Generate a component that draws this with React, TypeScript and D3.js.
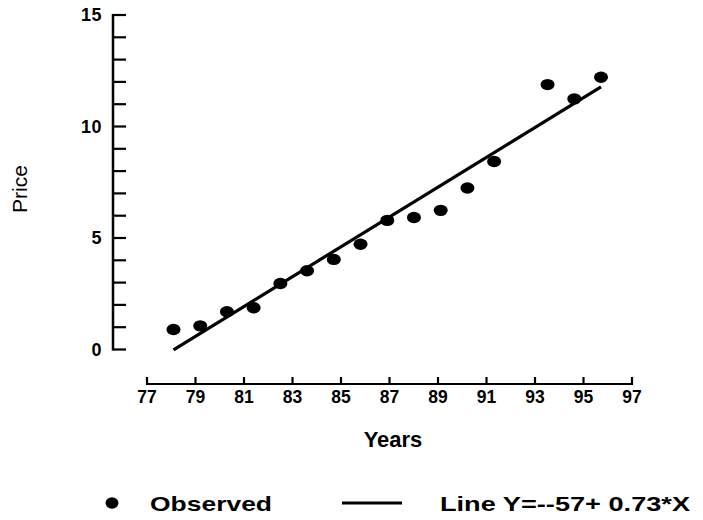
import React from "react";
import * as d3 from "d3";

const years = [78, 79, 80, 81, 82, 83, 84, 85, 86, 87, 88, 89, 90, 92, 93, 94];
const prices = [0.9, 1.06, 1.69, 1.87, 2.96, 3.53, 4.04, 4.72, 5.79, 5.92, 6.24, 7.24, 8.43, 11.88, 11.24, 12.21];
const xTickLabels = [77, 79, 81, 83, 85, 87, 89, 91, 93, 95, 97];
const yTickValues = d3.range(0, 16, 1);
const yTickLabels = [0, 5, 10, 15];
const lineIntercept = -57.5;
const lineSlope = 0.737;
const lineYears = [78, 94];
const legendLabels = ["Observed", "Line Y=--57+ 0.73*X"];

const FONT = "'Liberation Sans', Arial, Helvetica, sans-serif";

export default function App() {
  const W = 703, H = 520;
  const y = d3.scaleLinear().domain([0, 15]).range([349.5, 15]);
  const xAxis = d3.scaleLinear().domain([77, 97]).range([147, 632]);
  // plotted marks use their own horizontal placement as in the original figure
  const xMark = d3.scaleLinear().domain([78, 94]).range([173.5, 601]);
  const axisX = 113;
  const axisY = 384;

  const fitLine = d3
    .line<number>()
    .x((d) => xMark(d))
    .y((d) => y(lineIntercept + lineSlope * d));

  return (
    <div style={{ position: "absolute", left: 0, top: 0 }}>
      <svg width={W} height={H} style={{ display: "block", background: "#fff" }}>
        <rect width={W} height={H} fill="#fff" />
        {/* Y axis */}
        <line x1={axisX} x2={axisX} y1={y(15) - 1} y2={y(0) + 1} stroke="#000" strokeWidth={2.5} />
        {yTickValues.map((v) => (
          <line key={v} x1={axisX} x2={axisX + 13} y1={y(v)} y2={y(v)} stroke="#000" strokeWidth={2.2} />
        ))}
        {yTickLabels.map((v) => (
          <text
            key={v}
            x={102}
            y={y(v) + 6}
            textAnchor="end"
            fontFamily={FONT}
            fontWeight="bold"
            fontSize={18}
            letterSpacing={0.5}
          >
            {v}
          </text>
        ))}
        <text
          transform={`translate(27,189) rotate(-90)`}
          textAnchor="middle"
          fontFamily={FONT}
          fontSize={21}
        >
          Price
        </text>

        {/* X axis */}
        <line x1={xAxis(77)} x2={xAxis(97)} y1={axisY} y2={axisY} stroke="#000" strokeWidth={2.2} />
        {xTickLabels.map((v) => (
          <g key={v}>
            <line x1={xAxis(v)} x2={xAxis(v)} y1={axisY + 1} y2={axisY - 7} stroke="#000" strokeWidth={2.2} />
            <text
              x={xAxis(v)}
              y={axisY + 19}
              textAnchor="middle"
              fontFamily={FONT}
              fontWeight="bold"
              fontSize={17.5}
            >
              {v}
            </text>
          </g>
        ))}
        <text x={393} y={447} textAnchor="middle" fontFamily={FONT} fontWeight="bold" fontSize={22}>
          Years
        </text>

        {/* Fit line */}
        <path d={fitLine(lineYears) || ""} fill="none" stroke="#000" strokeWidth={3.2} />

        {/* Observed points */}
        {years.map((yr, i) => (
          <ellipse key={yr} cx={xMark(yr)} cy={y(prices[i])} rx={7} ry={5.7} fill="#000" />
        ))}

        {/* Legend */}
        <ellipse cx={112} cy={503} rx={6.5} ry={5.7} fill="#000" />
        <text x={150} y={511} fontFamily={FONT} fontWeight="bold" fontSize={21} textLength={122} lengthAdjust="spacingAndGlyphs">
          {legendLabels[0]}
        </text>
        <line x1={342} x2={402} y1={503} y2={503} stroke="#000" strokeWidth={3} />
        <text x={440} y={511} fontFamily={FONT} fontWeight="bold" fontSize={21} textLength={250} lengthAdjust="spacingAndGlyphs">
          {legendLabels[1]}
        </text>
      </svg>
    </div>
  );
}
